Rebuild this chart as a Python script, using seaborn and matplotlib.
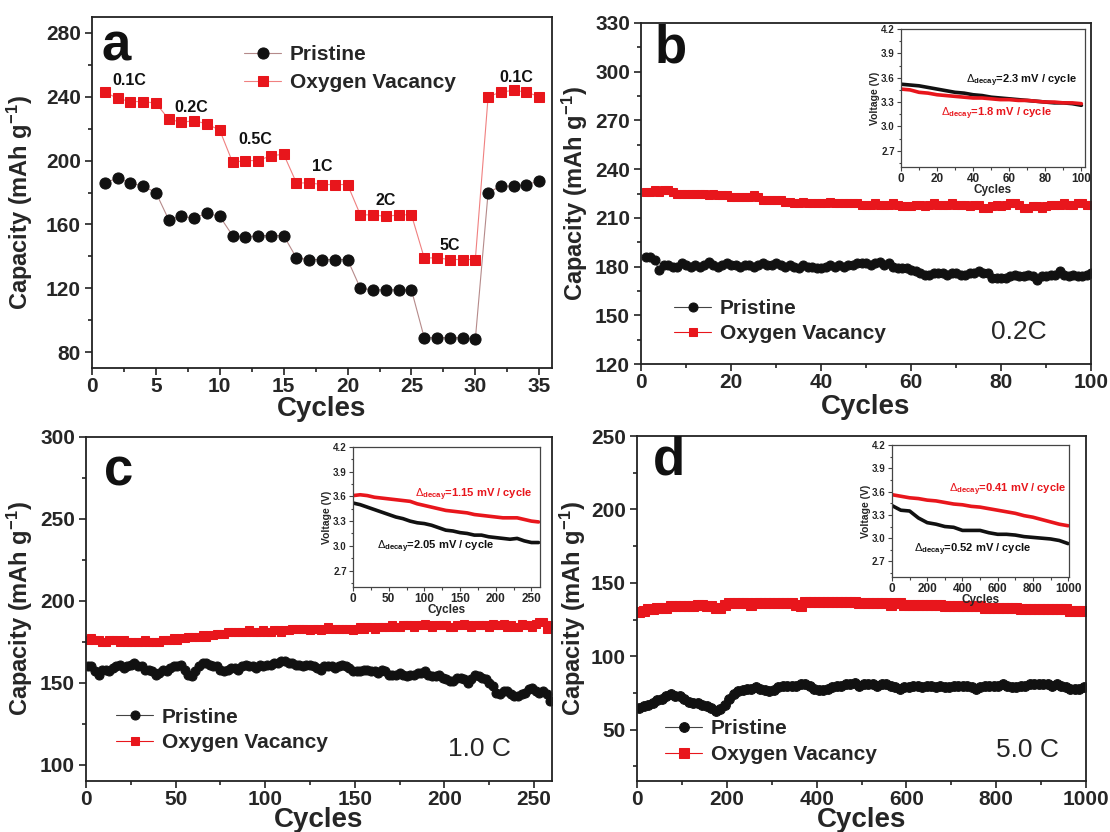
import numpy as np
import matplotlib
matplotlib.use("Agg")
import matplotlib.pyplot as plt
from matplotlib.ticker import MultipleLocator, FormatStrFormatter
import seaborn as sns

# ---------------- data ----------------
# panel a : rate capability
a_cycles = list(range(1, 36))
a_pristine = [186, 189, 186, 184, 180, 163, 165, 164, 167, 165,
              153, 152, 153, 153, 153, 139, 138, 138, 138, 138,
              120, 119, 119, 119, 119, 89, 89, 89, 89, 88,
              180, 184, 184, 185, 187]
a_ov = [243, 239, 237, 237, 236, 226, 224, 225, 223, 219,
        199, 200, 200, 203, 204, 186, 186, 185, 185, 185,
        166, 166, 165, 166, 166, 139, 139, 138, 138, 138,
        240, 243, 244, 243, 240]
a_rates = ["0.1C", "0.2C", "0.5C", "1C", "2C", "5C", "0.1C"]
a_rate_x = [2.9, 7.8, 12.8, 18.0, 23.0, 28.0, 33.2]
a_rate_y = [250, 233, 213, 196, 175, 147, 252]

# panel b : 0.2C cycling (cycles 1..100)
b_pristine = [186, 186, 184, 178, 181, 181, 180, 180, 182, 181,
              180, 181, 180, 181, 183, 181, 180, 181, 182, 181,
              181, 180, 181, 181, 180, 181, 182, 181, 181, 182,
              181, 180, 181, 180, 179, 181, 180, 180, 179, 179,
              180, 181, 180, 181, 180, 181, 181, 182, 182, 182,
              181, 182, 183, 181, 182, 180, 179, 179, 179, 178,
              177, 176, 175, 175, 176, 176, 176, 175, 176, 176,
              175, 175, 176, 176, 177, 176, 176, 173, 173, 173,
              173, 174, 175, 174, 174, 175, 174, 172, 174, 174,
              175, 175, 177, 175, 174, 175, 174, 174, 175, 176]
b_ov = [226, 226, 227, 226, 227, 227, 226, 225, 225, 225,
        225, 225, 225, 225, 224, 225, 224, 224, 224, 223,
        223, 223, 223, 223, 224, 223, 221, 221, 221, 221,
        221, 220, 220, 219, 219, 220, 219, 219, 219, 219,
        219, 220, 219, 219, 219, 219, 219, 219, 218, 218,
        218, 219, 218, 218, 218, 219, 218, 217, 217, 217,
        218, 218, 217, 218, 219, 218, 218, 218, 219, 218,
        218, 218, 217, 218, 218, 216, 216, 217, 218, 217,
        218, 219, 219, 218, 216, 216, 217, 217, 216, 217,
        218, 218, 218, 219, 218, 218, 219, 219, 218, 218]

# panel c : 1.0C cycling (every 2nd cycle, 1..259)
c_pristine = [160, 160, 157, 155, 158, 158, 157, 159, 160, 161,
              159, 160, 161, 162, 160, 160, 158, 158, 157, 155,
              156, 158, 157, 159, 160, 160, 161, 158, 155, 154,
              157, 160, 162, 162, 161, 160, 160, 158, 157, 158,
              159, 159, 158, 160, 161, 160, 160, 159, 161, 160,
              161, 161, 162, 162, 163, 163, 162, 162, 161, 161,
              160, 161, 161, 160, 159, 158, 160, 160, 160, 159,
              160, 161, 160, 159, 157, 157, 157, 158, 158, 157,
              157, 156, 158, 157, 155, 155, 155, 156, 155, 154,
              155, 155, 156, 156, 157, 155, 154, 154, 155, 153,
              152, 151, 151, 153, 153, 152, 150, 152, 155, 154,
              153, 152, 150, 148, 144, 143, 145, 145, 143, 142,
              142, 143, 144, 146, 147, 145, 144, 145, 143, 139]
c_ov = [176, 177, 176, 176, 175, 175, 176, 176, 176, 175,
        176, 175, 175, 175, 175, 175, 176, 175, 175, 175,
        175, 176, 176, 176, 177, 176, 177, 177, 178, 178,
        178, 178, 179, 178, 179, 179, 180, 180, 180, 181,
        181, 181, 181, 181, 181, 182, 181, 181, 181, 182,
        181, 181, 182, 182, 181, 182, 182, 183, 183, 183,
        183, 183, 182, 183, 183, 182, 183, 184, 183, 183,
        183, 183, 183, 183, 182, 183, 184, 183, 184, 184,
        183, 184, 184, 184, 184, 185, 184, 184, 185, 185,
        185, 184, 185, 185, 186, 185, 184, 185, 185, 185,
        185, 184, 184, 185, 185, 186, 185, 184, 185, 185,
        185, 185, 184, 186, 185, 185, 186, 184, 185, 184,
        184, 186, 185, 185, 184, 186, 187, 187, 183, 185]

# panel d : 5.0C cycling (every 10th cycle, 5..995)
d_pristine = [65, 66, 67, 68, 70, 71, 73, 74, 73, 73,
              71, 69, 68, 68, 67, 66, 65, 63, 64, 67,
              71, 74, 76, 77, 78, 78, 79, 78, 77, 76,
              77, 79, 80, 80, 80, 80, 81, 81, 80, 78,
              77, 77, 78, 79, 80, 80, 81, 81, 82, 80,
              81, 81, 81, 80, 81, 81, 80, 79, 78, 79,
              79, 80, 80, 79, 80, 80, 79, 80, 79, 79,
              80, 80, 80, 80, 79, 78, 79, 80, 80, 80,
              80, 81, 80, 79, 79, 80, 80, 81, 81, 81,
              81, 81, 80, 81, 80, 79, 78, 78, 78, 79]
d_ov = [130, 131, 132, 132, 133, 133, 133, 134, 134, 134,
        134, 134, 134, 135, 135, 134, 134, 133, 133, 135,
        136, 136, 136, 136, 136, 135, 136, 136, 136, 136,
        136, 136, 136, 136, 136, 135, 134, 137, 137, 137,
        137, 137, 137, 137, 137, 137, 137, 137, 137, 136,
        136, 136, 136, 136, 136, 136, 135, 136, 136, 135,
        135, 135, 135, 135, 135, 135, 135, 135, 134, 134,
        134, 134, 134, 134, 134, 134, 134, 133, 133, 133,
        133, 133, 133, 133, 133, 132, 132, 132, 132, 132,
        132, 132, 132, 132, 132, 132, 131, 131, 131, 131]

# insets : mid-point voltage
ib_pristine = [3.52, 3.51, 3.50, 3.48, 3.46, 3.44, 3.42, 3.41, 3.39, 3.38, 3.36,
               3.35, 3.34, 3.33, 3.32, 3.31, 3.30, 3.29, 3.29, 3.28, 3.26]
ib_ov = [3.46, 3.45, 3.42, 3.41, 3.39, 3.38, 3.37, 3.36, 3.35, 3.35, 3.34,
         3.33, 3.33, 3.32, 3.32, 3.31, 3.30, 3.30, 3.29, 3.29, 3.28]
ic_pristine = [3.52, 3.50, 3.47, 3.44, 3.41, 3.38, 3.35, 3.33, 3.30, 3.28, 3.27,
               3.25, 3.22, 3.19, 3.18, 3.16, 3.15, 3.13, 3.13, 3.11, 3.10,
               3.09, 3.08, 3.09, 3.06, 3.04, 3.04]
ic_ov = [3.61, 3.62, 3.61, 3.59, 3.58, 3.57, 3.56, 3.55, 3.54, 3.51, 3.49,
         3.47, 3.45, 3.43, 3.42, 3.41, 3.40, 3.38, 3.37, 3.36, 3.35,
         3.34, 3.34, 3.34, 3.32, 3.30, 3.29]
id_pristine = [3.42, 3.36, 3.35, 3.26, 3.20, 3.18, 3.15, 3.14, 3.10, 3.10, 3.10,
               3.07, 3.05, 3.05, 3.04, 3.02, 3.01, 3.00, 2.99, 2.97, 2.93]
id_ov = [3.56, 3.54, 3.52, 3.51, 3.49, 3.48, 3.46, 3.44, 3.43, 3.41, 3.40,
         3.38, 3.36, 3.34, 3.32, 3.29, 3.27, 3.24, 3.21, 3.18, 3.16]

decay_texts = {
    "b": ("=2.3 mV / cycle", "=1.8 mV / cycle"),
    "c": ("=2.05 mV / cycle", "=1.15 mV / cycle"),
    "d": ("=0.52 mV / cycle", "=0.41 mV / cycle"),
}
rate_texts = {"b": "0.2C", "c": "1.0 C", "d": "5.0 C"}
series_names = ["Pristine", "Oxygen Vacancy"]

# ---------------- style ----------------
sns.set_theme(style="ticks")
plt.rcParams['font.family'] = ['Liberation Sans', 'DejaVu Sans']
plt.rcParams['mathtext.fontset'] = 'custom'
plt.rcParams['mathtext.rm'] = 'Liberation Sans'
plt.rcParams['mathtext.bf'] = 'Liberation Sans:bold'
plt.rcParams['mathtext.it'] = 'Liberation Sans:italic'

RED = '#e8161c'
BLK = '#111111'
W, H = 1110, 832

fig = plt.figure(figsize=(W / 100, H / 100), dpi=100)


def rect(l, t, r, b):
    return [l / W, 1 - b / H, (r - l) / W, (b - t) / H]


def style_main(ax, ymaj, ymin, xmaj, xmin):
    for s in ax.spines.values():
        s.set_linewidth(1.3)
        s.set_color('#222222')
        s.set_visible(True)
    ax.yaxis.set_major_locator(MultipleLocator(ymaj))
    ax.yaxis.set_minor_locator(MultipleLocator(ymin))
    ax.xaxis.set_major_locator(MultipleLocator(xmaj))
    ax.xaxis.set_minor_locator(MultipleLocator(xmin))
    ax.tick_params(which='both', direction='out', top=False, right=False, width=1.2, color='#222222')
    ax.tick_params(which='major', length=5, labelsize=15, pad=3)
    ax.tick_params(axis='x', which='major', pad=1.5)
    ax.tick_params(which='minor', length=3)
    for lab in ax.get_xticklabels() + ax.get_yticklabels():
        lab.set_fontweight('bold')
    ax.set_xlabel("Cycles", fontsize=20, fontweight='bold')
    ax.set_ylabel(r"Capacity (mAh g$^{\mathbf{-1}}$)", fontsize=17, fontweight='bold')
    ax.grid(False)


def style_inset(ax, xmaj, xmin):
    for s in ax.spines.values():
        s.set_linewidth(0.9)
        s.set_color('#444444')
    ax.set_ylim(2.5, 4.2)
    ax.yaxis.set_major_locator(MultipleLocator(0.3))
    ax.yaxis.set_minor_locator(MultipleLocator(0.15))
    ax.yaxis.set_major_formatter(FormatStrFormatter('%.1f'))
    ax.xaxis.set_major_locator(MultipleLocator(xmaj))
    ax.xaxis.set_minor_locator(MultipleLocator(xmin))
    ax.tick_params(which='both', direction='out', top=False, right=False, width=0.8, color='#444444')
    ax.tick_params(which='major', length=3, pad=1.5)
    ax.tick_params(which='minor', length=1.8)
    ax.tick_params(axis='y', labelsize=7)
    ax.tick_params(axis='x', labelsize=8.5)
    for lab in ax.get_xticklabels() + ax.get_yticklabels():
        lab.set_fontweight('bold')
    ax.set_xlabel("Cycles", fontsize=8.5, fontweight='bold', labelpad=-1)
    ax.set_ylabel("Voltage (V)", fontsize=7.5, fontweight='bold', labelpad=1)
    ax.grid(False)
    ax.set_facecolor('white')


def legend(ax, x, y, spacing):
    ax.legend(loc='upper left', bbox_to_anchor=(x, y), frameon=False, borderaxespad=0,
              borderpad=0, handlelength=1.8, handletextpad=0.4, labelspacing=spacing,
              numpoints=1, prop={'size': 15, 'weight': 'bold'})


def panel_letter(ax, s, x, y):
    ax.text(x, y, s, transform=ax.transAxes, fontsize=38, fontweight='bold',
            ha='left', va='center', color=BLK)


# ---------------- panel a ----------------
ax = fig.add_axes(rect(92, 17, 552, 368))
sns.lineplot(x=a_cycles, y=a_pristine, ax=ax, color='#b58a8a', lw=0.8, marker='o',
             markersize=8, markerfacecolor=BLK, markeredgecolor=BLK, label=series_names[0])
sns.lineplot(x=a_cycles, y=a_ov, ax=ax, color='#f08080', lw=0.8, marker='s',
             markersize=7.5, markerfacecolor=RED, markeredgecolor=RED, label=series_names[1])
ax.set_xlim(0, 36)
ax.set_ylim(70, 290)
style_main(ax, 40, 20, 5, 2.5)
for t, xx, yy in zip(a_rates, a_rate_x, a_rate_y):
    ax.text(xx, yy, t, ha='center', va='center', fontsize=11.5, fontweight='bold', color=BLK)
legend(ax, 0.33, 0.92, 0.45)
panel_letter(ax, "a", 0.02, 0.915)
ax.yaxis.set_label_coords(-0.124, 0.47)
ax.xaxis.set_label_coords(0.5, -0.08)

# ---------------- panel b ----------------
ax = fig.add_axes(rect(641, 23, 1091, 364))
xb = np.arange(1, 101)
sns.lineplot(x=xb, y=b_pristine, ax=ax, color='#444444', lw=0.8, marker='o',
             markersize=6.5, markerfacecolor=BLK, markeredgecolor=BLK, label=series_names[0])
sns.lineplot(x=xb, y=b_ov, ax=ax, color=RED, lw=0.8, marker='s',
             markersize=6, markerfacecolor=RED, markeredgecolor=RED, label=series_names[1])
ax.set_xlim(0, 100)
ax.set_ylim(120, 330)
style_main(ax, 30, 15, 20, 10)
legend(ax, 0.073, 0.19, 0.3)
panel_letter(ax, "b", 0.03, 0.925)
ax.text(0.84, 0.095, rate_texts["b"], transform=ax.transAxes, fontsize=19, ha='center', va='center')
ax.yaxis.set_label_coords(-0.113, 0.5)
ax.xaxis.set_label_coords(0.5, -0.088)

ins = fig.add_axes(rect(901, 29, 1085, 167))
xi = np.arange(0, 101, 5)
sns.lineplot(x=xi, y=ib_pristine, ax=ins, color=BLK, lw=2.6)
sns.lineplot(x=xi, y=ib_ov, ax=ins, color=RED, lw=2.6)
ins.set_xlim(0, 102)
style_inset(ins, 20, 10)
ins.text(36, 3.56, r"$\Delta_{\mathbf{decay}}$" + decay_texts["b"][0], fontsize=8, fontweight='bold', color=BLK, va='center')
ins.text(22, 3.15, r"$\Delta_{\mathbf{decay}}$" + decay_texts["b"][1], fontsize=8, fontweight='bold', color=RED, va='center')

# ---------------- panel c ----------------
ax = fig.add_axes(rect(86, 437, 552, 781))
xc = np.arange(1, 260, 2)
sns.lineplot(x=xc, y=c_pristine, ax=ax, color='#444444', lw=0.8, marker='o',
             markersize=6.5, markerfacecolor=BLK, markeredgecolor=BLK, label=series_names[0])
sns.lineplot(x=xc, y=c_ov, ax=ax, color=RED, lw=0.8, marker='s',
             markersize=6, markerfacecolor=RED, markeredgecolor=RED, label=series_names[1])
ax.set_xlim(0, 260)
ax.set_ylim(90, 300)
style_main(ax, 50, 25, 50, 25)
legend(ax, 0.064, 0.213, 0.3)
panel_letter(ax, "c", 0.038, 0.9)
ax.text(0.845, 0.093, rate_texts["c"], transform=ax.transAxes, fontsize=19, ha='center', va='center')
ax.yaxis.set_label_coords(-0.109, 0.5)
ax.xaxis.set_label_coords(0.5, -0.076)

ins = fig.add_axes(rect(353, 447, 540, 587))
xi = np.arange(0, 261, 10)
sns.lineplot(x=xi, y=ic_pristine, ax=ins, color=BLK, lw=2.6)
sns.lineplot(x=xi, y=ic_ov, ax=ins, color=RED, lw=2.6)
ins.set_xlim(0, 262)
style_inset(ins, 50, 25)
ins.text(87, 3.62, r"$\Delta_{\mathbf{decay}}$" + decay_texts["c"][1], fontsize=8, fontweight='bold', color=RED, va='center')
ins.text(34, 2.99, r"$\Delta_{\mathbf{decay}}$" + decay_texts["c"][0], fontsize=8, fontweight='bold', color=BLK, va='center')

# ---------------- panel d ----------------
ax = fig.add_axes(rect(637, 436, 1086, 781))
xd = np.arange(5, 1000, 10)
sns.lineplot(x=xd, y=d_pristine, ax=ax, color='#444444', lw=0.8, marker='o',
             markersize=7, markerfacecolor=BLK, markeredgecolor=BLK, label=series_names[0])
sns.lineplot(x=xd, y=d_ov, ax=ax, color=RED, lw=0.8, marker='s',
             markersize=6.5, markerfacecolor=RED, markeredgecolor=RED, label=series_names[1])
ax.set_xlim(0, 1000)
ax.set_ylim(15, 250)
style_main(ax, 50, 25, 200, 100)
legend(ax, 0.062, 0.18, 0.35)
panel_letter(ax, "d", 0.036, 0.93)
ax.text(0.87, 0.09, rate_texts["d"], transform=ax.transAxes, fontsize=19, ha='center', va='center')
ax.yaxis.set_label_coords(-0.109, 0.5)
ax.xaxis.set_label_coords(0.5, -0.076)

ins = fig.add_axes(rect(892, 445, 1069, 577))
xi = np.arange(0, 1001, 50)
sns.lineplot(x=xi, y=id_pristine, ax=ins, color=BLK, lw=2.6)
sns.lineplot(x=xi, y=id_ov, ax=ins, color=RED, lw=2.6)
ins.set_xlim(0, 1005)
style_inset(ins, 200, 100)
ins.text(326, 3.62, r"$\Delta_{\mathbf{decay}}$" + decay_texts["d"][1], fontsize=8, fontweight='bold', color=RED, va='center')
ins.text(123, 2.85, r"$\Delta_{\mathbf{decay}}$" + decay_texts["d"][0], fontsize=8, fontweight='bold', color=BLK, va='center')

fig.savefig("out.png", dpi=100, facecolor='white')
